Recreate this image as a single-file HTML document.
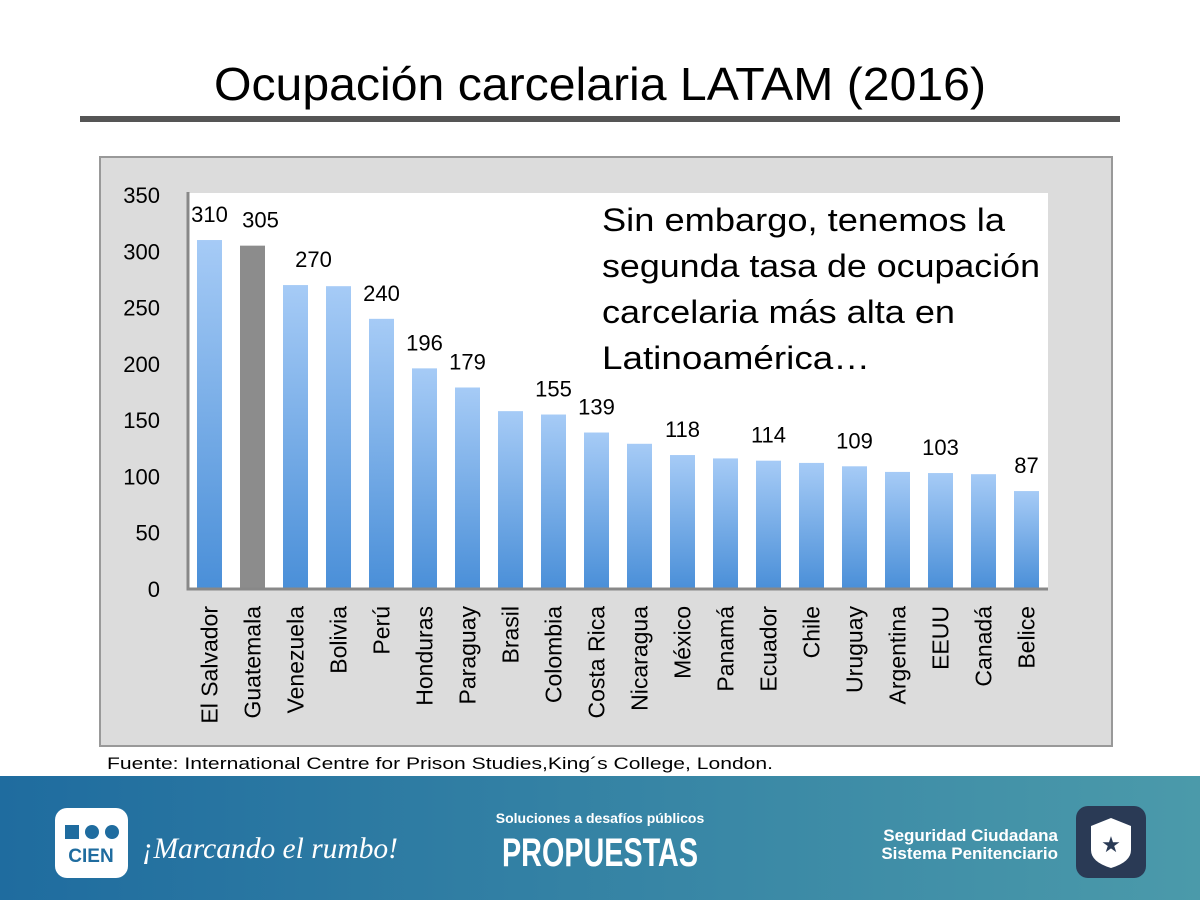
<!DOCTYPE html>
<html><head><meta charset="utf-8"><style>
body{margin:0;width:1200px;height:900px;overflow:hidden;background:#fff;font-family:"Liberation Sans",sans-serif}
</style></head><body>
<svg width="1200" height="900" xmlns="http://www.w3.org/2000/svg">
<defs>
<linearGradient id="bar" x1="0" y1="0" x2="0" y2="1"><stop offset="0" stop-color="#a6cbf6"/><stop offset="1" stop-color="#4a8fd8"/></linearGradient>
<linearGradient id="foot" x1="0" y1="0" x2="1" y2="0"><stop offset="0" stop-color="#1f6c9f"/><stop offset="1" stop-color="#4b9aaa"/></linearGradient>
</defs>
<text x="600" y="100" text-anchor="middle" font-size="46" textLength="772" lengthAdjust="spacingAndGlyphs" fill="#000">Ocupación carcelaria LATAM (2016)</text>
<rect x="80" y="116" width="1040" height="6" fill="#555"/>
<rect x="100" y="157" width="1012" height="589" fill="#dcdcdc" stroke="#999" stroke-width="2"/>
<rect x="188" y="193" width="860" height="396" fill="#fff"/>
<g id="chart"></g>
<g font-size="32" fill="#000">
<text x="602" y="231" textLength="403" lengthAdjust="spacingAndGlyphs">Sin embargo, tenemos la</text>
<text x="602" y="277" textLength="438" lengthAdjust="spacingAndGlyphs">segunda tasa de ocupación</text>
<text x="602" y="323" textLength="353" lengthAdjust="spacingAndGlyphs">carcelaria más alta en</text>
<text x="602" y="369" textLength="268" lengthAdjust="spacingAndGlyphs">Latinoamérica…</text>
</g>
<text x="107" y="769" font-size="17" fill="#000" textLength="666" lengthAdjust="spacingAndGlyphs">Fuente: International Centre for Prison Studies,King´s College, London.</text>
<rect x="0" y="776" width="1200" height="124" fill="url(#foot)"/>
<rect x="55" y="808" width="73" height="70" rx="12" fill="#fff"/>
<text x="91" y="862" text-anchor="middle" font-size="19" font-weight="bold" fill="#1f6c9f">CIEN</text>
<rect x="65" y="825" width="14" height="14" fill="#1f6c9f"/><circle cx="92" cy="832" r="7" fill="#1f6c9f"/><circle cx="112" cy="832" r="7" fill="#1f6c9f"/>
<text x="142" y="858" font-size="30" font-style="italic" fill="#fff" font-family="Liberation Serif, serif" textLength="256" lengthAdjust="spacingAndGlyphs">¡Marcando el rumbo!</text>
<text x="600" y="823" text-anchor="middle" font-size="14" font-weight="bold" fill="#fff">Soluciones a desafíos públicos</text>
<text x="600" y="866" text-anchor="middle" font-size="40" font-weight="bold" fill="#fff" textLength="196" lengthAdjust="spacingAndGlyphs">PROPUESTAS</text>
<text x="1058" y="841" text-anchor="end" font-size="17" font-weight="bold" fill="#fff">Seguridad Ciudadana</text>
<text x="1058" y="859" text-anchor="end" font-size="17" font-weight="bold" fill="#fff">Sistema Penitenciario</text>
<rect x="1076" y="806" width="70" height="72" rx="12" fill="#2a3a55"/>
<path d="M1111 818 L1131 826 L1131 850 Q1131 862 1111 868 Q1091 862 1091 850 L1091 826 Z" fill="#fff"/>
<text x="1111" y="852" text-anchor="middle" font-size="22" fill="#2a3a55">★</text>
</svg>
<script>
const categories=["El Salvador","Guatemala","Venezuela","Bolivia","Perú","Honduras","Paraguay","Brasil","Colombia","Costa Rica","Nicaragua","México","Panamá","Ecuador","Chile","Uruguay","Argentina","EEUU","Canadá","Belice"];
const values=[310,305,270,269,240,196,179,158,155,139,129,119,116,114,112,109,104,103,102,87];
const printedLabels=["310","305","270","","240","196","179","","155","139","","118","","114","","109","","103","","87"];
const yTicks=[0,50,100,150,200,250,300,350];
const ns="http://www.w3.org/2000/svg";
const g=document.getElementById('chart');
const x0=188,yZero=589,yTop=195,yMax=350,step=43,barW=25;
const y=v=>yZero-(v/yMax)*(yZero-yTop);
const xc=i=>x0+9+i*step+barW/2;
function mk(t,a){const e=document.createElementNS(ns,t);for(const k in a)e.setAttribute(k,a[k]);g.appendChild(e);return e;}
yTicks.forEach(t=>{const e=mk('text',{x:160,y:y(t)+8,'text-anchor':'end','font-size':22,fill:'#000'});e.textContent=t;

});
categories.forEach((c,i)=>{
 const b=mk('rect',{x:xc(i)-barW/2,y:y(values[i]),width:barW,height:yZero-y(values[i]),fill:i===1?'#8c8c8c':'url(#bar)'});
 
 
 if(printedLabels[i]){const off=i===2?18:(i===1?8:0);
  const l=mk('text',{x:xc(i)+off,y:y(values[i])-18,'text-anchor':'middle','font-size':22,fill:'#000'});l.textContent=printedLabels[i];
  
  }
 const t=mk('text',{transform:`translate(${xc(i)+8},606) rotate(-90)`,'text-anchor':'end','font-size':23,fill:'#000'});t.textContent=c;
 
 
});
const ax=mk('path',{d:`M${x0} ${yTop-3} V${yZero} H1048`,stroke:'#888',fill:'none','stroke-width':3});


</script>
</body></html>
